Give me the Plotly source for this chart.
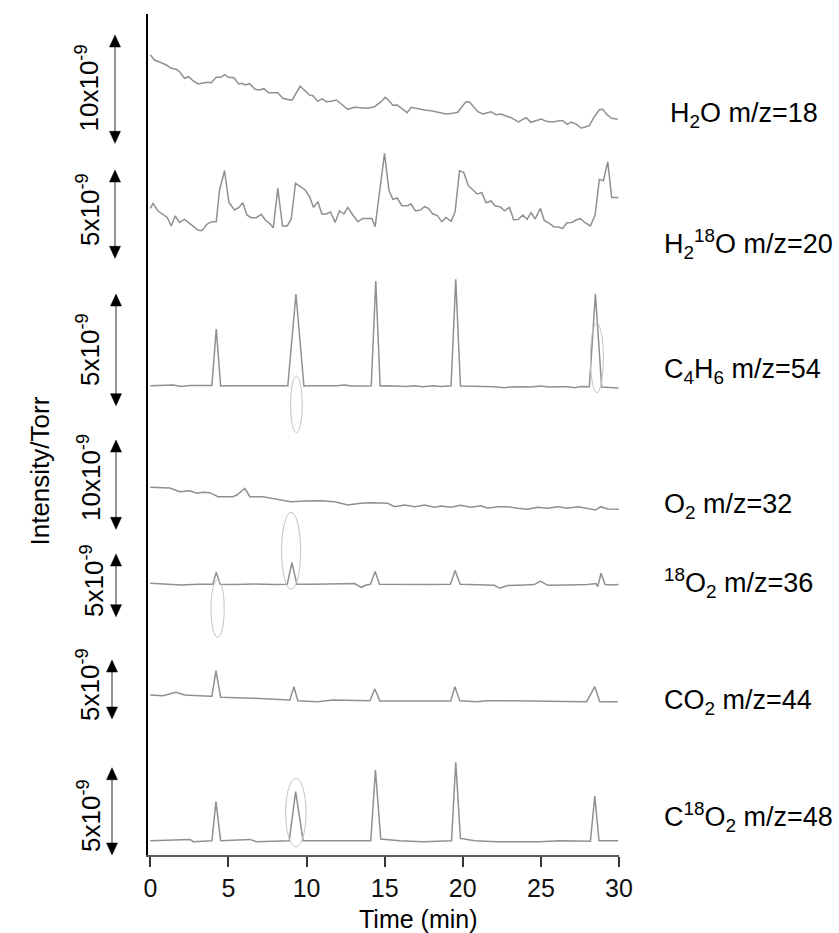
import plotly.graph_objects as go

# ---------------- data (time in min, signal relative to each trace's baseline, display units) ----------------
h2o_t = [0.0, 0.27, 0.70, 1.02, 1.34, 1.66, 1.87, 2.19, 2.45, 2.73, 3.05, 3.37, 3.64, 3.90, 4.22, 4.50, 4.75, 5.01,
         5.35, 5.65, 5.86, 6.07, 6.35, 6.71, 6.99, 7.27, 7.57, 7.84, 8.16, 8.48, 8.80, 9.06, 9.59, 9.87, 10.19, 10.40,
         10.72, 10.98, 11.26, 11.58, 11.90, 12.22, 12.64, 13.07, 13.50, 13.92, 14.35, 14.78, 15.03, 15.24, 15.52,
         15.80, 16.10, 16.44, 16.69, 17.12, 17.55, 17.97, 18.40, 18.93, 19.36, 19.68, 19.94, 20.21, 20.43, 20.70,
         20.96, 21.28, 21.60, 21.81, 22.13, 22.45, 22.77, 23.09, 23.56, 23.84, 24.05, 24.37, 24.69, 25.01, 25.33,
         25.76, 26.18, 26.40, 26.68, 26.93, 27.25, 27.57, 27.78, 28.10, 28.42, 28.74, 28.96, 29.23, 29.53, 29.92]
h2o_v = [75.0, 70.0, 67.3, 65.0, 61.7, 60.7, 58.3, 51.7, 53.3, 49.3, 46.0, 46.7, 47.7, 47.3, 52.7, 52.7, 55.3, 52.7,
         52.3, 46.0, 46.7, 45.0, 46.3, 40.7, 40.0, 41.3, 37.3, 37.3, 37.3, 31.7, 31.0, 29.7, 43.7, 39.3, 35.0, 34.3,
         28.7, 31.3, 28.3, 28.7, 30.0, 26.0, 20.7, 22.7, 22.0, 21.7, 23.3, 28.3, 32.7, 30.0, 24.7, 25.0, 21.3, 17.3,
         22.7, 21.3, 20.0, 19.3, 18.0, 16.0, 16.7, 17.7, 23.3, 28.3, 28.0, 23.3, 18.3, 16.0, 17.3, 18.3, 15.3, 16.0,
         14.0, 12.3, 8.0, 10.0, 12.3, 7.7, 9.0, 11.0, 8.7, 8.0, 9.3, 9.3, 5.7, 8.0, 6.0, 2.0, 2.7, 4.3, 13.3, 20.3,
         20.7, 15.3, 11.7, 10.7]

h218o_t = [0.0, 0.17, 0.49, 0.81, 1.08, 1.34, 1.59, 1.87, 2.19, 2.51, 2.83, 3.05, 3.30, 3.64, 3.94, 4.22, 4.43, 4.75,
           5.03, 5.39, 5.65, 5.92, 6.18, 6.46, 6.78, 7.10, 7.35, 7.63, 7.87, 8.16, 8.46, 8.76, 9.02, 9.29, 9.61, 9.91,
           10.19, 10.45, 10.72, 10.98, 11.26, 11.53, 11.83, 12.11, 12.39, 12.64, 12.96, 13.28, 13.60, 13.92, 14.18,
           14.39, 14.67, 14.99, 15.27, 15.52, 15.80, 16.10, 16.44, 16.69, 16.97, 17.29, 17.55, 17.80, 18.08, 18.36,
           18.66, 18.93, 19.25, 19.51, 19.79, 20.06, 20.36, 20.64, 20.92, 21.22, 21.49, 21.81, 22.07, 22.39, 22.67,
           22.99, 23.26, 23.56, 23.84, 24.12, 24.37, 24.63, 24.97, 25.22, 25.54, 25.82, 26.12, 26.40, 26.67, 26.97,
           27.25, 27.53, 27.83, 28.17, 28.47, 28.74, 29.00, 29.28, 29.53, 29.96]
h218o_v = [23.3, 28.3, 20.7, 17.7, 14.3, 5.7, 15.7, 9.3, 12.3, 8.3, 4.3, 1.7, 1.0, 7.7, 10.0, 10.0, 41.7, 61.0, 29.3,
           21.7, 24.0, 29.0, 16.7, 14.0, 14.0, 17.3, 11.7, 8.3, 4.0, 43.3, 5.7, 5.7, 12.7, 48.3, 45.0, 41.7, 35.0,
           24.3, 30.0, 17.7, 17.7, 19.7, 9.3, 20.7, 17.7, 24.3, 16.7, 10.0, 13.3, 13.3, 13.3, 5.0, 41.7, 78.3, 41.7,
           32.3, 33.7, 26.0, 26.0, 27.7, 20.7, 21.7, 25.0, 23.3, 17.7, 16.3, 10.0, 14.3, 10.3, 20.0, 61.0, 59.3, 46.0,
           41.7, 37.7, 39.0, 29.0, 30.7, 25.7, 25.0, 21.0, 24.3, 11.7, 12.3, 16.7, 12.3, 19.0, 12.7, 23.3, 11.0, 8.3,
           5.0, 4.7, 3.3, 9.0, 9.3, 11.7, 13.0, 9.0, 5.7, 16.7, 52.3, 51.0, 70.0, 34.3, 34.3]

c4h6_t = [0.0, 0.49, 1.02, 1.45, 1.98, 2.51, 3.05, 3.69, 3.94, 4.22, 4.50, 4.97, 5.60, 6.24, 6.67, 7.31, 7.95, 8.48,
          8.80, 9.32, 9.83, 10.30, 10.83, 11.36, 11.90, 12.43, 12.86, 13.50, 14.14, 14.43, 14.71, 15.20, 15.84, 16.37,
          16.91, 17.44, 18.08, 18.61, 19.25, 19.55, 19.85, 20.43, 21.07, 22.03, 22.67, 23.09, 23.73, 24.37, 25.01,
          25.44, 26.08, 26.72, 27.14, 27.57, 28.10, 28.49, 28.89, 29.38, 29.96]
c4h6_v = [0, 0.3, 0, 0.7, -0.7, 0.3, 0.3, 0.3, 0.3, 56.7, -0.3, 0, 0, 0, -0.7, 0, 0, 0, 0, 91.7, -0.3, 0, 0, -0.7, 0,
          0.7, -0.3, -0.3, 0, 104.7, -0.3, 0, -0.3, -0.7, 0, -1.0, 0, -0.7, 0, 106.3, -0.3, -0.3, -0.7, -1.0, -2.0,
          -1.3, -1.0, -1.3, -0.3, -1.3, -1.0, -1.0, -2.0, -0.7, -1.0, 91.7, -1.3, -1.7, -2.3]

o2_t = [0.0, 1.25, 1.89, 2.53, 2.98, 3.37, 3.81, 4.33, 5.28, 5.54, 6.05, 6.37, 7.20, 8.10, 9.00, 9.89, 10.92, 11.81,
        12.64, 13.47, 14.11, 15.20, 15.63, 16.27, 16.93, 17.56, 18.19, 18.61, 19.24, 19.87, 20.51, 21.16, 21.60,
        22.24, 22.88, 23.52, 24.16, 24.80, 25.44, 26.08, 26.72, 27.36, 28.00, 28.51, 28.83, 29.28, 29.98]
o2_v = [22.7, 22.0, 18.3, 19.3, 16.7, 17.7, 17.3, 13.3, 13.3, 15.0, 21.7, 13.3, 13.3, 10.7, 8.3, 9.0, 9.3, 8.3, 5.0,
        6.7, 7.3, 6.7, 3.3, 5.0, 3.3, 5.0, 2.7, 4.0, 2.7, 4.7, 2.7, 4.3, 1.7, 3.3, 3.3, 1.7, 0.7, 2.7, 1.7, 3.3, 1.7,
        3.3, 1.7, 0.0, 3.3, 1.0, 0.7]

o18o2_t = [0.0, 0.70, 1.98, 3.05, 4.00, 4.22, 4.47, 5.39, 6.67, 7.95, 8.76, 9.06, 9.38, 10.51, 11.79, 13.07, 13.50,
           13.82, 14.09, 14.39, 14.67, 15.84, 16.91, 17.97, 19.21, 19.51, 19.83, 21.17, 22.03, 22.35, 22.88, 23.95,
           24.58, 24.97, 25.44, 26.72, 28.00, 28.53, 28.64, 28.85, 29.11, 29.49, 29.96]
o18o2_v = [1.0, 0.3, -0.7, 0, 0, 12.0, 0, -0.3, 0.3, -0.3, 0, 21.7, 0, 0, 0.3, 0.7, -3.0, -0.7, 0, 12.7, 0, -0.3,
           -0.7, -0.3, 0, 13.7, 0, -0.3, -1.0, -4.0, -1.3, -0.7, -0.3, 3.3, -1.0, -0.7, -0.3, 0.7, -2.3, 11.0, -0.3,
           -0.7, -0.3]

co2_t = [0.0, 0.81, 1.64, 2.21, 3.49, 3.94, 4.20, 4.50, 6.56, 8.93, 9.19, 9.44, 10.72, 11.68, 14.05, 14.37, 14.69,
         17.25, 18.71, 19.23, 19.49, 19.81, 20.90, 21.54, 23.01, 27.93, 28.45, 28.77, 29.92]
co2_v = [7.0, 6.3, 9.7, 7.0, 6.0, 5.7, 31.3, 4.7, 3.7, 2.0, 15.3, 1.3, 0.3, 2.0, 1.3, 13.0, 1.0, 1.0, 1.3, 1.0, 15.3,
         1.3, 0.3, 1.3, 1.3, 0.3, 15.3, 0.3, 0.3]

c18o2_t = [0.0, 2.55, 2.74, 3.94, 4.20, 4.50, 6.37, 6.80, 8.89, 9.30, 9.78, 12.13, 14.11, 14.41, 14.75, 15.97, 17.46,
           19.28, 19.55, 19.85, 20.77, 22.16, 24.93, 26.21, 28.17, 28.45, 28.72, 29.94]
c18o2_v = [0, 1.3, -1.0, 0, 39.0, 0, 1.3, -1.0, 0, 49.0, 0, 0, 0, 70.7, 1.7, 0, -1.0, 0, 78.3, 2.3, 0, -1.0, -1.0, 0,
           -0.5, 44.7, 0, 0]

trace_labels = ["H<sub>2</sub>O m/z=18", "H<sub>2</sub><sup>18</sup>O m/z=20", "C<sub>4</sub>H<sub>6</sub> m/z=54",
                "O<sub>2</sub> m/z=32", "<sup>18</sup>O<sub>2</sub> m/z=36", "CO<sub>2</sub> m/z=44",
                "C<sup>18</sup>O<sub>2</sub> m/z=48"]
trace_offsets = [725.0, 623.3, 469.3, 345.0, 270.7, 153.0, 14.3]
scale_texts = ["10x10<sup>-9</sup>", "5x10<sup>-9</sup>", "5x10<sup>-9</sup>", "10x10<sup>-9</sup>",
               "5x10<sup>-9</sup>", "5x10<sup>-9</sup>", "5x10<sup>-9</sup>"]
x_ticks = [0, 5, 10, 15, 20, 25, 30]

series_t = [h2o_t, h218o_t, c4h6_t, o2_t, o18o2_t, co2_t, c18o2_t]
series_v = [h2o_v, h218o_v, c4h6_v, o2_v, o18o2_v, co2_v, c18o2_v]

# ---------------- layout helpers ----------------
W, H = 839, 933
L, R, T, B = 148, 220, 14, 78
PW = W - L - R
FONT = "Liberation Sans, Arial, sans-serif"


def px_to_paper_x(px):
    return (px - L) / PW


# label / scale-bar placement (display units on the y axis)
label_y = [740, 611, 484, 349, 272, 153, 38]
label_x = [668, 662, 662, 662, 662, 662, 662]
bar_x = [115, 115, 116, 116, 116, 112, 112]
bar_top = [820, 685, 561, 415, 301, 195, 87.3]
bar_bot = [711.7, 596.7, 449.3, 325.7, 238.3, 136, 0]
stext_x = [88, 88, 88, 89, 92, 88, 89]
stext_y = [766.5, 645, 505, 377, 274, 170, 39]
HEAD_LEN = 12.0          # display units
HEAD_HALF = 5.5 / PW     # paper units

# highlight ellipses (time range, display-unit range)
ellipses = [(8.98, 9.72, 422.3, 479.0), (28.17, 29.0, 462.3, 531.7), (8.40, 9.62, 265.7, 342.7),
            (3.88, 4.73, 217.7, 275.0), (8.66, 9.97, 8.3, 76.7)]

fig = go.Figure()
for t, v, off in zip(series_t, series_v, trace_offsets):
    fig.add_trace(go.Scatter(x=t, y=[off + val for val in v], mode="lines",
                             line=dict(color="#909090", width=1.5), hoverinfo="skip"))

annotations = []
shapes = []
for i in range(len(trace_labels)):
    annotations.append(dict(text=trace_labels[i], xref="paper", yref="y", x=px_to_paper_x(label_x[i]),
                            y=label_y[i], xanchor="left", yanchor="middle", showarrow=False,
                            font=dict(family=FONT, size=27, color="black")))
    annotations.append(dict(text=scale_texts[i], xref="paper", yref="y", x=px_to_paper_x(stext_x[i]),
                            y=stext_y[i], textangle=-90, showarrow=False, xanchor="center", yanchor="middle",
                            font=dict(family=FONT, size=26, color="black")))
    xp = px_to_paper_x(bar_x[i])
    top, bot = bar_top[i], bar_bot[i]
    # grey shaft
    shapes.append(dict(type="line", xref="paper", yref="y", x0=xp, x1=xp, y0=bot + HEAD_LEN - 1,
                       y1=top - HEAD_LEN + 1, line=dict(color="#707070", width=1.5)))
    # black arrow heads
    shapes.append(dict(type="path", xref="paper", yref="y",
                       path=f"M {xp},{top} L {xp - HEAD_HALF},{top - HEAD_LEN} L {xp + HEAD_HALF},{top - HEAD_LEN} Z",
                       fillcolor="black", line=dict(color="black", width=0.5)))
    shapes.append(dict(type="path", xref="paper", yref="y",
                       path=f"M {xp},{bot} L {xp - HEAD_HALF},{bot + HEAD_LEN} L {xp + HEAD_HALF},{bot + HEAD_LEN} Z",
                       fillcolor="black", line=dict(color="black", width=0.5)))

annotations.append(dict(text="Intensity/Torr", xref="paper", yref="y", x=px_to_paper_x(22), y=383.5,
                        textangle=-90, showarrow=False, font=dict(family=FONT, size=26, color="black")))
annotations.append(dict(text="Time (min)", xref="paper", yref="paper", x=px_to_paper_x(418),
                        y=(855 - 919) / (H - T - B), showarrow=False, xanchor="center", yanchor="middle",
                        font=dict(family=FONT, size=25, color="black")))

for e in ellipses:
    shapes.append(dict(type="circle", xref="x", yref="y", x0=e[0], x1=e[1], y0=e[2], y1=e[3],
                       line=dict(color="#c4c4c4", width=1)))

fig.update_layout(
    width=W, height=H, margin=dict(l=L, r=R, t=T, b=B),
    plot_bgcolor="white", paper_bgcolor="white", showlegend=False,
    annotations=annotations, shapes=shapes,
    xaxis=dict(range=[-0.15, 30], tickvals=x_ticks, ticks="outside", ticklen=10, tickwidth=1.5,
               tickcolor="#333333", showline=True, linecolor="#5a5a5a", linewidth=2, showgrid=False,
               zeroline=False, tickfont=dict(family=FONT, size=25, color="#111111")),
    yaxis=dict(range=[0, 841], showline=True, linecolor="black", linewidth=2, showticklabels=False,
               ticks="", showgrid=False, zeroline=False),
)

fig.write_html("out.html")
